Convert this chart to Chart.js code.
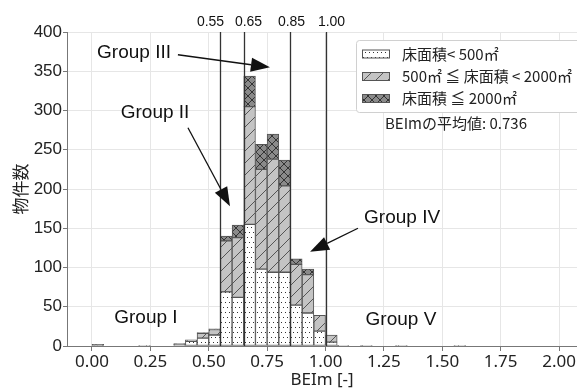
<!DOCTYPE html>
<html>
<head>
<meta charset="utf-8">
<script src="https://cdn.jsdelivr.net/npm/chart.js@4.4.0/dist/chart.umd.min.js"></script>
<style>
  html, body { margin: 0; padding: 0; background: #fff; }
  canvas { display: block; }
</style>
</head>
<body>
<canvas id="chart" width="577" height="390"></canvas>
<script>
// histogram bins (BEIm), each 0.05 wide, listed by their left edge
const binStarts = [0.00, 0.05, 0.10, 0.15, 0.20, 0.25, 0.30, 0.35, 0.40, 0.45,
                   0.50, 0.55, 0.60, 0.65, 0.70, 0.75, 0.80, 0.85, 0.90, 0.95,
                   1.00, 1.05, 1.10, 1.15, 1.20, 1.25, 1.30, 1.35, 1.40, 1.45,
                   1.50, 1.55];
const binWidth = 0.05;

// building counts per bin, by floor area
const smallCounts = [0, 0, 0, 0, 0, 0, 0, 2, 6, 10,
                     14, 69, 62, 155, 98, 94, 94, 52, 42, 19,
                     5, 0, 0, 0, 0, 0, 0, 0, 0, 0,
                     0, 0];
const midCounts   = [0, 0, 0, 0, 1, 0, 0, 0, 2, 6,
                     7, 65, 76, 150, 127, 144, 110, 52, 49, 20,
                     9, 1, 0, 1, 0, 0, 1, 0, 0, 0,
                     0, 1];
const largeCounts = [2, 0, 0, 0, 0, 0, 0, 1, 0, 1,
                     1, 6, 16, 39, 32, 32, 33, 7, 7, 0,
                     0, 0, 0, 0, 0, 0, 0, 0, 0, 0,
                     0, 0];

const seriesLabels = ['床面積< 500㎡', '500㎡ ≦ 床面積 < 2000㎡', '床面積 ≦ 2000㎡'];

const xTicks = [0.00, 0.25, 0.50, 0.75, 1.00, 1.25, 1.50, 1.75, 2.00];
const yTicks = [0, 50, 100, 150, 200, 250, 300, 350, 400];

// group boundaries
const splitLines = [0.55, 0.65, 0.85, 1.00];
const splitLabelShift = [-10, 4, 1, 5];
const meanText = 'BEImの平均値: 0.736';

// annotation texts / arrows, positions in data units
const groupLabels = [
  { text: 'Group I',   x: 0.231, y: 36 },
  { text: 'Group II',  x: 0.270, y: 297 },
  { text: 'Group III', x: 0.180, y: 374 },
  { text: 'Group IV',  x: 1.328, y: 163 },
  { text: 'Group V',   x: 1.323, y: 34 }
];
const arrows = [
  { from: [0.368, 371], to: [0.762, 355] },
  { from: [0.411, 278], to: [0.591, 178] },
  { from: [1.139, 150], to: [0.934, 120] }
];

const canvas = document.getElementById('chart');
const ctx0 = canvas.getContext('2d');

// fill patterns like the matplotlib hatches
function makePattern(w, h, bg, draw) {
  const c = document.createElement('canvas');
  c.width = w; c.height = h;
  const g = c.getContext('2d');
  g.fillStyle = bg;
  g.fillRect(0, 0, w, h);
  draw(g);
  return ctx0.createPattern(c, 'repeat');
}

const dotFill = makePattern(4, 10, '#ffffff', g => {
  g.fillStyle = '#333';
  g.fillRect(1, 2, 1, 1);
  g.fillRect(3, 7, 1, 1);
});
const hatchFill = makePattern(12, 12, '#c4c4c4', g => {
  g.strokeStyle = '#555';
  g.lineWidth = 1;
  [-12, 0, 12].forEach(o => {
    g.beginPath(); g.moveTo(o - 1, 13); g.lineTo(o + 13, -1); g.stroke();
  });
});
const crossFill = makePattern(8, 8, '#8a8a8a', g => {
  g.strokeStyle = '#333';
  g.lineWidth = 1;
  [-8, 0, 8].forEach(o => {
    g.beginPath(); g.moveTo(o - 1, 9); g.lineTo(o + 9, -1); g.stroke();
    g.beginPath(); g.moveTo(o - 1, -1); g.lineTo(o + 9, 9); g.stroke();
  });
});
const fills = [dotFill, hatchFill, crossFill];

function toPoints(counts) {
  return binStarts.map((b, i) => ({ x: b + binWidth / 2, y: counts[i] }));
}

const datasets = [smallCounts, midCounts, largeCounts].map((counts, i) => ({
  label: seriesLabels[i],
  data: toPoints(counts),
  backgroundColor: fills[i],
  borderColor: '#555',
  borderWidth: 1,
  borderSkipped: false,
  barPercentage: 1,
  categoryPercentage: 1
}));

function arrow(ctx, x1, y1, x2, y2) {
  const ang = Math.atan2(y2 - y1, x2 - x1), L = 19, W = 7;
  const bx = x2 - L * Math.cos(ang), by = y2 - L * Math.sin(ang);
  ctx.beginPath(); ctx.moveTo(x1, y1); ctx.lineTo(bx, by); ctx.stroke();
  ctx.beginPath();
  ctx.moveTo(x2, y2);
  ctx.lineTo(bx + W * Math.sin(ang), by - W * Math.cos(ang));
  ctx.lineTo(bx - W * Math.sin(ang), by + W * Math.cos(ang));
  ctx.closePath();
  ctx.fill();
}

const annotations = {
  id: 'annotations',
  afterDatasetsDraw(chart) {
    const { ctx, chartArea: a, scales: { x, y } } = chart;
    ctx.save();

    // vertical group boundaries + labels above the plot
    splitLines.forEach((v, i) => {
      const px = Math.round(x.getPixelForValue(v)) + 0.5;
      ctx.strokeStyle = '#333';
      ctx.lineWidth = 1.3;
      ctx.beginPath(); ctx.moveTo(px, a.top); ctx.lineTo(px, a.bottom); ctx.stroke();
      ctx.fillStyle = '#111';
      ctx.font = '14px "Liberation Sans", Arial, sans-serif';
      ctx.textAlign = 'center';
      ctx.textBaseline = 'middle';
      ctx.fillText(v.toFixed(2), px + splitLabelShift[i], 22);
    });

    // group names
    ctx.fillStyle = '#111';
    ctx.font = '19px "Liberation Sans", Arial, sans-serif';
    groupLabels.forEach(g => {
      ctx.fillText(g.text, x.getPixelForValue(g.x), y.getPixelForValue(g.y));
    });

    // arrows
    ctx.strokeStyle = '#111';
    ctx.lineWidth = 1.3;
    arrows.forEach(ar => {
      arrow(ctx,
        x.getPixelForValue(ar.from[0]), y.getPixelForValue(ar.from[1]),
        x.getPixelForValue(ar.to[0]), y.getPixelForValue(ar.to[1]));
    });

    // legend box
    const lx = 356.5, ly = 40.5, lw = 230, lh = 72;
    ctx.fillStyle = '#fff';
    ctx.strokeStyle = '#d0d0d0';
    ctx.lineWidth = 1;
    ctx.beginPath();
    ctx.roundRect(lx, ly, lw, lh, 3);
    ctx.fill(); ctx.stroke();
    const rows = [54, 76.5, 98.5];
    ctx.font = '15px "Noto Sans CJK JP", sans-serif';
    ctx.textAlign = 'left';
    chart.data.datasets.forEach((ds, i) => {
      ctx.fillStyle = ds.backgroundColor;
      ctx.fillRect(362, rows[i] - 4.5, 28, 9);
      ctx.strokeStyle = '#555';
      ctx.strokeRect(362.5, rows[i] - 4, 27, 8);
      ctx.fillStyle = '#222';
      ctx.fillText(ds.label, 402, rows[i]);
    });

    ctx.textAlign = 'center';
    ctx.fillStyle = '#222';
    ctx.fillText(meanText, 456, 123);
    ctx.restore();
  }
};

new Chart(canvas, {
  type: 'bar',
  data: { datasets },
  plugins: [annotations],
  options: {
    responsive: false,
    animation: false,
    layout: { padding: { top: 32, right: 0, left: 0, bottom: 0 } },
    plugins: { legend: { display: false }, tooltip: { enabled: false } },
    scales: {
      x: {
        type: 'linear',
        stacked: true,
        offset: false,
        min: -0.107,
        max: 2.077,
        afterBuildTicks: s => { s.ticks = xTicks.map(v => ({ value: v })); },
        afterFit: s => { s.height = 44; },
        grid: { color: '#e6e6e6', tickColor: '#777', tickLength: 5, offset: false },
        border: { color: '#777', width: 1 },
        ticks: {
          font: { family: '"Noto Sans", sans-serif', size: 17 },
          color: '#222',
          padding: 1,
          maxRotation: 0,
          autoSkip: false,
          callback: v => Number(v).toFixed(2)
        },
        title: {
          display: true,
          text: 'BEIm [-]',
          font: { family: '"Noto Sans", sans-serif', size: 17 },
          color: '#222',
          padding: { top: 0, bottom: 0 }
        }
      },
      y: {
        stacked: true,
        min: 0,
        max: 400,
        afterBuildTicks: s => { s.ticks = yTicks.map(v => ({ value: v })); },
        afterFit: s => { s.width = 67; },
        grid: { color: '#e6e6e6', tickColor: '#777', tickLength: 4 },
        border: { color: '#777', width: 1 },
        ticks: {
          font: { family: '"Liberation Sans", Arial, sans-serif', size: 17 },
          color: '#222',
          padding: 1
        },
        title: {
          display: true,
          text: '物件数',
          font: { family: '"Noto Sans CJK JP", sans-serif', size: 17 },
          color: '#222',
          padding: { top: 10, bottom: 0 }
        }
      }
    }
  }
});
</script>
</body>
</html>
